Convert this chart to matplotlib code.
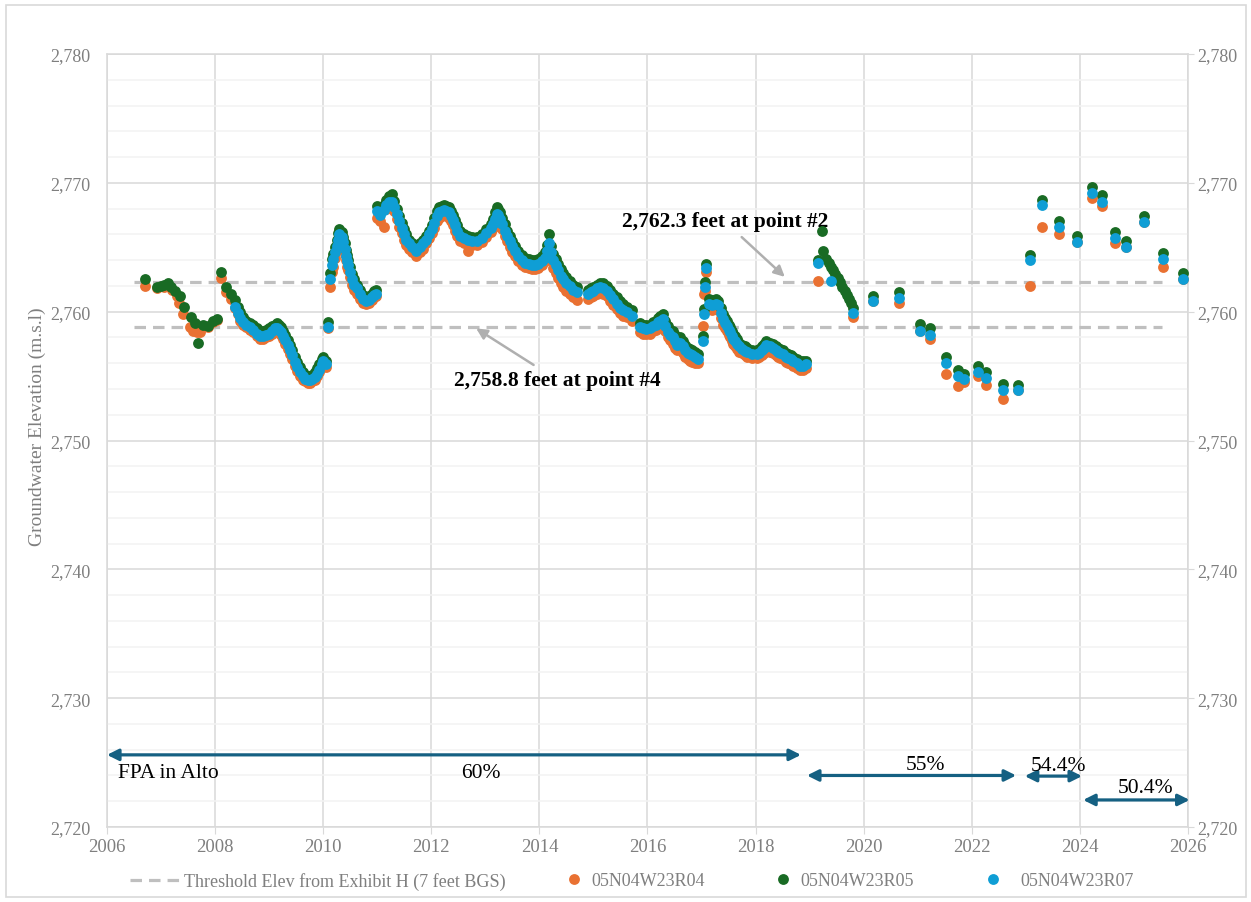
import numpy as np
import matplotlib
matplotlib.use("Agg")
import matplotlib.pyplot as plt
from matplotlib.patches import Rectangle
from matplotlib.ticker import MultipleLocator, FuncFormatter

plt.rcParams['font.family'] = ['Liberation Serif', 'DejaVu Serif']

nan = np.nan

# early manual readings (no R07 yet)
r05_early_years = [2006.70, 2006.93, 2007.00, 2007.06, 2007.12, 2007.19, 2007.26, 2007.35, 2007.43,
                   2007.55, 2007.63, 2007.69, 2007.78, 2007.87, 2007.97, 2008.03, 2008.10, 2008.20, 2008.29]
r05_early = [2762.5, 2761.9, 2762.0, 2762.1, 2762.2, 2761.95, 2761.6, 2761.2, 2760.4,
             2759.6, 2759.1, 2757.6, 2759.0, 2758.9, 2759.3, 2759.4, 2763.1, 2761.9, 2761.4]
r04_early_years = [2006.70, 2006.93, 2007.06, 2007.20, 2007.30, 2007.34, 2007.41, 2007.54, 2007.60,
                   2007.66, 2007.72, 2007.78, 2007.87, 2007.97, 2008.03, 2008.10, 2008.20, 2008.29]
r04_early = [2762.0, 2761.8, 2761.9, 2761.7, 2761.2, 2760.7, 2759.8, 2758.8, 2758.5,
             2758.4, 2758.45, 2758.8, 2758.8, 2759.2, 2759.35, 2762.65, 2761.5, 2761.0]

# transducer period 2008-2018
dense_years = [
    2008.37, 2008.42, 2008.46, 2008.52, 2008.58, 2008.64, 2008.70, 2008.77, 2008.83, 2008.89,
    2008.95, 2009.00, 2009.05, 2009.10, 2009.14, 2009.18, 2009.22, 2009.26, 2009.30, 2009.34,
    2009.39, 2009.43, 2009.48, 2009.52, 2009.57, 2009.62, 2009.66, 2009.71, 2009.75, 2009.80,
    2009.84, 2009.89, 2009.93, 2009.97, 2010.00, 2010.06, 2010.08, 2010.13, 2010.17, 2010.19,
    2010.22, 2010.25, 2010.28, 2010.30, 2010.34, 2010.37, 2010.40, 2010.42, 2010.44, 2010.46,
    2010.49, 2010.53, 2010.57, 2010.62, 2010.68, 2010.74, 2010.80, 2010.85, 2010.90, 2010.94,
    2010.98, 2011.00, 2011.06, 2011.12, 2011.17, 2011.22, 2011.27, 2011.31, 2011.36, 2011.40,
    2011.45, 2011.50, 2011.54, 2011.59, 2011.64, 2011.72, 2011.79, 2011.85, 2011.91, 2011.96,
    2012.01, 2012.05, 2012.10, 2012.15, 2012.19, 2012.24, 2012.28, 2012.32, 2012.36, 2012.40,
    2012.44, 2012.48, 2012.53, 2012.60, 2012.68, 2012.75, 2012.84, 2012.93, 2013.02, 2013.10,
    2013.15, 2013.18, 2013.21, 2013.24, 2013.27, 2013.31, 2013.36, 2013.40, 2013.45, 2013.49,
    2013.55, 2013.61, 2013.67, 2013.73, 2013.80, 2013.86, 2013.92, 2013.98, 2014.04, 2014.10,
    2014.14, 2014.18, 2014.22, 2014.26, 2014.30, 2014.35, 2014.40, 2014.44, 2014.50, 2014.57,
    2014.63, 2014.69, 2014.90, 2014.95, 2015.00, 2015.06, 2015.12, 2015.18, 2015.25, 2015.31,
    2015.37, 2015.43, 2015.49, 2015.55, 2015.62, 2015.71, 2015.86, 2015.92, 2015.98, 2016.04,
    2016.11, 2016.16, 2016.20, 2016.24, 2016.28, 2016.33, 2016.38, 2016.42, 2016.47, 2016.50,
    2016.54, 2016.60, 2016.65, 2016.70, 2016.75, 2016.79, 2016.83, 2016.87, 2016.94, 2017.02,
    2017.04, 2017.07, 2017.09, 2017.14, 2017.20, 2017.26, 2017.31, 2017.36, 2017.40, 2017.44,
    2017.47, 2017.50, 2017.53, 2017.56, 2017.59, 2017.62, 2017.65, 2017.70, 2017.75, 2017.80,
    2017.84, 2017.93, 2018.02, 2018.07, 2018.11, 2018.16, 2018.20, 2018.27, 2018.33, 2018.38,
    2018.42, 2018.46, 2018.51, 2018.56, 2018.60, 2018.65, 2018.70, 2018.76, 2018.82, 2018.88,
    2018.94]
r07_dense = [
    2760.4, 2759.9, 2759.5, 2759.2, 2759.0, 2758.8, 2758.6, 2758.3, 2758.1, 2758.1,
    2758.2, 2758.3, 2758.5, 2758.7, 2758.7, 2758.6, 2758.4, 2758.1, 2757.8, 2757.4,
    2757.0, 2756.6, 2756.1, 2755.7, 2755.3, 2755.0, 2754.8, 2754.7, 2754.7, 2754.8,
    2754.9, 2755.2, 2755.5, 2755.9, 2756.2, 2755.9, 2758.8, 2762.5, 2763.6, 2764.1,
    2764.6, 2765.1, 2765.6, 2766.0, 2765.8, 2765.4, 2764.9, 2764.3, 2763.9, 2763.6,
    2763.1, 2762.5, 2762.1, 2761.8, 2761.4, 2761.0, 2760.8, 2760.9, 2761.1, 2761.3,
    2761.4, 2767.8, 2767.5, 2767.9, 2768.3, 2768.5, 2768.5, 2768.1, 2767.6, 2767.0,
    2766.5, 2766.0, 2765.6, 2765.3, 2765.0, 2764.7, 2765.0, 2765.3, 2765.6, 2766.0,
    2766.4, 2766.9, 2767.4, 2767.7, 2767.8, 2767.9, 2767.8, 2767.7, 2767.4, 2767.1,
    2766.7, 2766.3, 2765.9, 2765.7, 2765.6, 2765.5, 2765.5, 2765.7, 2766.1, 2766.5,
    2766.8, 2767.2, 2767.6, 2767.5, 2767.2, 2766.8, 2766.3, 2765.9, 2765.5, 2765.1,
    2764.7, 2764.3, 2764.0, 2763.8, 2763.7, 2763.6, 2763.6, 2763.7, 2763.9, 2764.2,
    2764.7, 2765.3, 2764.6, 2764.0, 2763.6, 2763.2, 2762.8, 2762.5, 2762.2, 2762.0,
    2761.7, 2761.5, 2761.4, 2761.5, 2761.6, 2761.8, 2761.9, 2761.8, 2761.6, 2761.3,
    2761.0, 2760.6, 2760.3, 2760.1, 2759.95, 2759.7, 2758.8, 2758.7, 2758.65, 2758.7,
    2758.9, 2759.0, 2759.2, 2759.3, 2759.4, 2758.9, 2758.4, 2758.2, 2758.0, 2757.7,
    2757.4, 2757.6, 2757.3, 2757.0, 2756.8, 2756.7, 2756.6, 2756.5, 2756.3, 2757.7,
    2759.8, 2761.9, 2763.4, 2760.6, 2760.5, 2760.6, 2760.5, 2759.9, 2759.4, 2759.1,
    2758.9, 2758.6, 2758.4, 2758.1, 2757.9, 2757.7, 2757.5, 2757.3, 2757.1, 2756.95,
    2756.85, 2756.7, 2756.7, 2756.8, 2757.0, 2757.2, 2757.4, 2757.3, 2757.2, 2757.0,
    2756.9, 2756.8, 2756.7, 2756.5, 2756.4, 2756.3, 2756.2, 2756.0, 2755.8, 2755.8,
    2755.9]
r05_dense = [
    2760.9, 2760.4, 2760.0, 2759.6, 2759.3, 2759.1, 2759.0, 2758.7, 2758.5, 2758.5,
    2758.6, 2758.7, 2758.9, 2759.0, 2759.1, 2759.0, 2758.8, 2758.5, 2758.2, 2757.8,
    2757.4, 2757.0, 2756.5, 2756.1, 2755.7, 2755.3, 2755.1, 2755.0, 2755.0, 2755.1,
    2755.3, 2755.6, 2755.9, 2756.3, 2756.5, 2756.2, 2759.2, 2763.0, 2764.1, 2764.5,
    2765.0, 2765.6, 2766.1, 2766.4, 2766.2, 2765.8, 2765.3, 2764.8, 2764.4, 2764.0,
    2763.5, 2762.9, 2762.5, 2762.1, 2761.7, 2761.3, 2761.1, 2761.2, 2761.4, 2761.6,
    2761.7, 2768.2, 2767.9, 2768.3, 2768.7, 2769.0, 2769.1, 2768.6, 2768.0, 2767.4,
    2766.9, 2766.4, 2766.0, 2765.6, 2765.3, 2765.0, 2765.3, 2765.6, 2765.9, 2766.3,
    2766.7, 2767.3, 2767.8, 2768.1, 2768.2, 2768.3, 2768.2, 2768.1, 2767.8, 2767.5,
    2767.1, 2766.7, 2766.3, 2766.0, 2765.9, 2765.8, 2765.8, 2766.0, 2766.4, 2766.8,
    2767.2, 2767.7, 2768.1, 2768.0, 2767.7, 2767.3, 2766.8, 2766.3, 2765.9, 2765.5,
    2765.1, 2764.7, 2764.4, 2764.2, 2764.1, 2764.0, 2764.0, 2764.1, 2764.3, 2764.6,
    2765.2, 2766.0, 2765.1, 2764.5, 2764.1, 2763.7, 2763.3, 2763.0, 2762.7, 2762.4,
    2762.1, 2761.9, 2761.7, 2761.8, 2761.9, 2762.1, 2762.2, 2762.2, 2762.0, 2761.7,
    2761.4, 2761.1, 2760.8, 2760.6, 2760.4, 2760.1, 2759.1, 2759.0, 2759.0, 2759.0,
    2759.2, 2759.3, 2759.5, 2759.7, 2759.8, 2759.3, 2758.9, 2758.6, 2758.5, 2758.2,
    2757.9, 2758.0, 2757.7, 2757.4, 2757.2, 2757.1, 2757.0, 2756.9, 2756.7, 2758.1,
    2760.2, 2762.3, 2763.7, 2761.0, 2760.9, 2761.0, 2760.85, 2760.3, 2759.8, 2759.5,
    2759.3, 2759.0, 2758.8, 2758.5, 2758.3, 2758.1, 2757.9, 2757.6, 2757.4, 2757.3,
    2757.2, 2757.0, 2757.0, 2757.1, 2757.3, 2757.5, 2757.7, 2757.6, 2757.5, 2757.3,
    2757.2, 2757.1, 2757.0, 2756.8, 2756.7, 2756.6, 2756.5, 2756.3, 2756.2, 2756.2,
    2756.2]
r04_dense = [
    2760.3, 2759.8, 2759.3, 2759.0, 2758.8, 2758.6, 2758.4, 2758.1, 2757.9, 2757.9,
    2758.0, 2758.1, 2758.3, 2758.5, 2758.5, 2758.4, 2758.2, 2757.9, 2757.5, 2757.1,
    2756.7, 2756.3, 2755.8, 2755.4, 2755.0, 2754.7, 2754.6, 2754.5, 2754.5, 2754.6,
    2754.7, 2755.0, 2755.3, 2755.7, 2756.0, 2755.7, 2758.7, 2761.9, 2763.1, 2763.5,
    2764.2, 2764.8, 2765.3, 2765.7, 2765.4, 2765.0, 2764.5, 2764.0, 2763.5, 2763.2,
    2762.7, 2762.1, 2761.7, 2761.4, 2761.0, 2760.7, 2760.6, 2760.7, 2760.9, 2761.1,
    2761.2, 2767.3, 2767.0, 2766.55, 2768.0, 2768.2, 2768.2, 2767.8, 2767.2, 2766.6,
    2766.1, 2765.6, 2765.2, 2764.9, 2764.6, 2764.3, 2764.6, 2764.9, 2765.3, 2765.7,
    2766.1, 2766.5, 2767.0, 2767.3, 2767.4, 2767.5, 2767.5, 2767.3, 2767.0, 2766.7,
    2766.3, 2765.9, 2765.5, 2765.3, 2764.7, 2765.2, 2765.2, 2765.4, 2765.8, 2766.2,
    2766.5, 2766.9, 2767.3, 2767.1, 2766.8, 2766.4, 2765.9, 2765.5, 2765.0, 2764.6,
    2764.3, 2763.9, 2763.6, 2763.5, 2763.4, 2763.3, 2763.3, 2763.4, 2763.6, 2763.9,
    2764.3, 2765.0, 2764.0, 2763.4, 2763.0, 2762.6, 2762.2, 2761.9, 2761.6, 2761.4,
    2761.1, 2760.9, 2761.0, 2761.1, 2761.2, 2761.4, 2761.5, 2761.4, 2761.2, 2760.8,
    2760.5, 2760.2, 2759.9, 2759.7, 2759.6, 2759.3, 2758.4, 2758.3, 2758.3, 2758.3,
    2758.5, 2758.6, 2758.8, 2758.9, 2758.9, 2758.5, 2758.0, 2757.8, 2757.5, 2757.2,
    2757.0, 2757.1, 2756.8, 2756.5, 2756.3, 2756.2, 2756.1, 2756.0, 2756.0, 2758.9,
    2761.4, 2761.6, 2763.1, 2760.3, 2760.1, 2760.2, 2760.1, 2759.5, 2759.0, 2758.7,
    2758.5, 2758.2, 2758.0, 2757.7, 2757.5, 2757.3, 2757.1, 2756.9, 2756.8, 2756.6,
    2756.5, 2756.4, 2756.4, 2756.5, 2756.6, 2756.8, 2757.0, 2756.9, 2756.8, 2756.6,
    2756.5, 2756.4, 2756.3, 2756.1, 2756.0, 2755.9, 2755.8, 2755.6, 2755.5, 2755.5,
    2755.6]

# 2019 onward
late_years = [2019.16, 2019.22, 2019.25, 2019.31, 2019.35, 2019.39, 2019.43, 2019.47, 2019.52,
              2019.56, 2019.60, 2019.65, 2019.69, 2019.73, 2019.77, 2019.80,
              2020.18, 2020.65, 2021.04, 2021.23, 2021.53, 2021.75, 2021.86, 2022.12, 2022.27,
              2022.57, 2022.85, 2023.08, 2023.30, 2023.62, 2023.95, 2024.22, 2024.41, 2024.65,
              2024.85, 2025.19, 2025.54, 2025.90]
r07_late = [2763.8, nan, nan, nan, nan, 2762.35, nan, nan, nan,
            nan, nan, nan, nan, nan, nan, 2759.9,
            2760.8, 2761.05, 2758.5, 2758.2, 2756.0, 2755.0, 2754.8, 2755.3, 2754.85,
            2753.9, 2753.9, 2764.0, 2768.3, 2766.55, 2765.4, 2769.2, 2768.55, 2765.7,
            2765.0, 2766.95, 2764.1, 2762.55]
r05_late = [2764.0, 2766.3, 2764.7, 2764.1, 2763.8, 2763.5, 2763.2, 2762.9, 2762.6,
            2762.3, 2761.9, 2761.6, 2761.3, 2761.0, 2760.7, 2760.3,
            2761.2, 2761.55, 2759.05, 2758.7, 2756.45, 2755.5, 2755.2, 2755.8, 2755.3,
            2754.4, 2754.3, 2764.4, 2768.7, 2767.0, 2765.85, 2769.65, 2769.05, 2766.15,
            2765.5, 2767.45, 2764.55, 2763.0]
r04_late = [2762.4, nan, nan, nan, nan, nan, nan, nan, nan,
            nan, nan, nan, nan, nan, nan, 2759.6,
            2760.8, 2760.7, 2758.5, 2757.9, 2755.2, 2754.25, 2754.55, 2755.0, 2754.3,
            2753.2, 2753.9, 2762.0, 2766.6, 2766.0, 2765.4, 2768.8, 2768.2, 2765.3,
            2765.0, 2766.95, 2763.5, 2762.55]

thr_years = [2006.5, 2025.52]
thr_point2 = [2762.3, 2762.3]
thr_point4 = [2758.8, 2758.8]

c_r04 = '#E97132'
c_r05 = '#196B24'
c_r07 = '#0F9ED5'
c_arrow = '#156082'
c_thr = '#BFBFBF'
c_text = '#7F7F7F'
c_grid = '#D9D9D9'

fig = plt.figure(figsize=(12.51, 9.03), dpi=100)
fig.patches.append(Rectangle((0.005, 0.006), 0.991, 0.987, transform=fig.transFigure,
                             fill=False, edgecolor=c_grid, linewidth=1.2))
ax = fig.add_axes([107 / 1251, 1 - 828 / 903, 1081 / 1251, 773 / 903])

ms = 7.8
thr_line, = ax.plot(thr_years, thr_point2, color=c_thr, lw=2.3, dashes=(3.6, 2.2), zorder=2)
ax.plot(thr_years, thr_point4, color=c_thr, lw=2.3, dashes=(3.6, 2.2), zorder=2)

h04, = ax.plot(r04_early_years, r04_early, 'o', color=c_r04, ms=ms, mew=0, zorder=3)
ax.plot(dense_years, r04_dense, 'o', color=c_r04, ms=ms, mew=0, zorder=3)
ax.plot(late_years, r04_late, 'o', color=c_r04, ms=ms, mew=0, zorder=3)
h05, = ax.plot(r05_early_years, r05_early, 'o', color=c_r05, ms=ms, mew=0, zorder=4)
ax.plot(dense_years, r05_dense, 'o', color=c_r05, ms=ms, mew=0, zorder=4)
ax.plot(late_years, r05_late, 'o', color=c_r05, ms=ms, mew=0, zorder=4)
h07, = ax.plot(dense_years, r07_dense, 'o', color=c_r07, ms=ms, mew=0, zorder=5)
ax.plot(late_years, r07_late, 'o', color=c_r07, ms=ms, mew=0, zorder=5)

ax.set_xlim(2006, 2026)
ax.set_ylim(2720, 2780)
ax.xaxis.set_major_locator(MultipleLocator(2))
ax.yaxis.set_major_locator(MultipleLocator(10))
ax.yaxis.set_minor_locator(MultipleLocator(2))
fmt = FuncFormatter(lambda v, p: f'{v:,.0f}')
ax.yaxis.set_major_formatter(fmt)
ax.grid(which='major', color=c_grid, lw=1.1, zorder=0)
ax.grid(which='minor', axis='y', color='#F2F2F2', lw=1.1, zorder=0)
ax.set_axisbelow(True)
for s in ax.spines.values():
    s.set_color(c_grid)
    s.set_linewidth(1.1)
ax.tick_params(axis='x', which='major', length=5, color=c_grid, labelcolor=c_text,
               labelsize=13.5, pad=3)
ax.tick_params(axis='y', which='major', length=0, labelcolor=c_text, labelsize=13, pad=12)
ax.tick_params(axis='y', which='minor', length=0)
ax.set_ylabel('Groundwater Elevation (m.s.l)', color=c_text, fontsize=14)
ax.yaxis.set_label_coords(-0.056, 0.519)

ax2 = ax.twinx()
ax2.set_ylim(2720, 2780)
ax2.yaxis.set_major_locator(MultipleLocator(10))
ax2.yaxis.set_major_formatter(fmt)
ax2.tick_params(axis='y', length=4, color=c_grid, labelcolor=c_text, labelsize=13, pad=3)
for s in ax2.spines.values():
    s.set_visible(False)

# threshold annotations
ax.annotate('2,762.3 feet at point #2', xy=(2018.54, 2762.7), xytext=(2017.43, 2767.0),
            ha='center', va='center', fontsize=15.5, fontweight='bold', color='black',
            arrowprops=dict(arrowstyle='-|>', color='#AFAFAF', lw=1.8, mutation_scale=16,
                            shrinkA=3, shrinkB=0))
ax.annotate('2,758.8 feet at point #4', xy=(2012.83, 2758.7), xytext=(2014.33, 2754.7),
            ha='center', va='center', fontsize=15.5, fontweight='bold', color='black',
            arrowprops=dict(arrowstyle='-|>', color='#AFAFAF', lw=1.8, mutation_scale=16,
                            shrinkA=3, shrinkB=0))

# FPA period arrows
fpa_starts = [2006.0, 2018.95, 2022.98, 2024.06]
fpa_ends = [2018.84, 2022.82, 2024.04, 2026.03]
fpa_levels = [2725.6, 2724.0, 2723.95, 2722.1]
fpa_labels = ['60%', '55%', '54.4%', '50.4%']
fpa_label_x = [2012.92, 2021.15, 2023.6, 2025.22]
fpa_label_y = [2724.25, 2724.85, 2724.8, 2723.05]
for x0, x1, lvl in zip(fpa_starts, fpa_ends, fpa_levels):
    ax.annotate('', xy=(x1, lvl), xytext=(x0, lvl),
                arrowprops=dict(arrowstyle='<|-|>', color=c_arrow, lw=2.3, mutation_scale=17,
                                shrinkA=0, shrinkB=0), annotation_clip=False)
for tx, ty, t in zip(fpa_label_x, fpa_label_y, fpa_labels):
    ax.text(tx, ty, t, ha='center', va='center', fontsize=15.5, color='black')
ax.text(2006.2, 2724.25, 'FPA in Alto', ha='left', va='center', fontsize=15.5, color='black')

# legend entries placed one by one to match the original spacing
leg_items = [(thr_line, 'Threshold Elev from Exhibit H (7 feet BGS)', 130, 2.7, 0.3),
             (h04, '05N04W23R04', 565, 1.0, 0.45),
             (h05, '05N04W23R05', 774, 1.0, 0.45),
             (h07, '05N04W23R07', 984, 1.0, 1.0)]
for handle, label, x0, hl, tp in leg_items:
    fig.legend([handle], [label], loc='center left', bbox_to_anchor=(x0 / 1251, 1 - 882 / 903),
               frameon=False, fontsize=13, labelcolor=c_text, handlelength=hl,
               handletextpad=tp, borderpad=0, borderaxespad=0, markerscale=1.0)

fig.savefig('out.png', dpi=100)
